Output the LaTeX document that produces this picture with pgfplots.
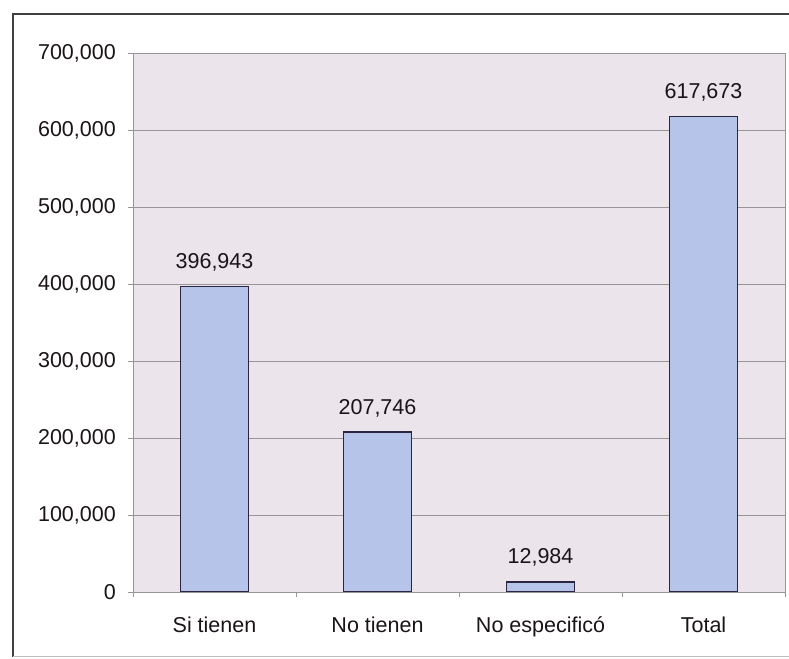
\documentclass[border=0pt]{standalone}
\usepackage{pgfplots}
\pgfplotsset{compat=1.18}
\usepackage{fontspec}
\setmainfont{Liberation Sans}
\definecolor{bgc}{HTML}{EBE4EA}
\definecolor{barc}{HTML}{B5C4E8}
\definecolor{gridc}{HTML}{989498}
\definecolor{edgec}{HTML}{2A2540}
\definecolor{txtc}{HTML}{1A1418}
\begin{document}
\begin{tikzpicture}[x=1bp,y=1bp]
\useasboundingbox (0,0) rectangle (789,659);
\draw[color=black!75, line width=1.5bp] (795,645) -- (13,645) -- (13,2);
\draw[color=black!25, line width=1bp] (13,2) -- (795,2);
\begin{axis}[
  at={(133bp,67bp)}, anchor=south west,
  width=652bp, height=539bp, scale only axis,
  xmin=-0.5, xmax=3.5, ymin=0, ymax=700000,
  axis background/.style={fill=bgc},
  axis line style={gridc, line width=0.8bp},
  xtick={0,1,2,3},
  xticklabels={Si tienen, No tienen, No especificó, Total},
  major x tick style={draw=none},
  minor xtick={-0.5,0.5,1.5,2.5,3.5},
  minor x tick style={gridc, line width=0.6bp},
  minor tick length=5bp,
  ytick={0,100000,...,700000},
  ymajorgrids,
  major grid style={gridc, line width=0.8bp},
  major tick length=5bp,
  tick align=outside,
  y tick style={gridc, line width=0.8bp},
  xtick pos=bottom, ytick pos=left,
  scaled y ticks=false,
  /pgf/number format/.cd, fixed, precision=0, 1000 sep={,}, assume math mode=true, /pgfplots/.cd,
  tick label style={font=\fontsize{21.5bp}{24bp}\selectfont, text=txtc},
  yticklabel style={inner sep=0pt, xshift=-12bp, /pgf/number format/.cd, fixed, precision=0, 1000 sep={,}, assume math mode=true},
  xticklabel style={anchor=base, inner sep=0pt, yshift=-36bp},
  ybar, bar width=68bp,
  nodes near coords={\pgfmathprintnumber[fixed,precision=0,1000 sep={,},assume math mode=true]{\pgfplotspointmeta}},
  every node near coord/.append style={font=\fontsize{21.5bp}{24bp}\selectfont, anchor=base, inner sep=0pt, yshift=18bp, text=txtc},
]
\addplot[fill=barc, draw=edgec, line width=1.4bp] coordinates {(0,396943) (1,207746) (2,12984) (3,617673)};
\end{axis}
\end{tikzpicture}
\end{document}
